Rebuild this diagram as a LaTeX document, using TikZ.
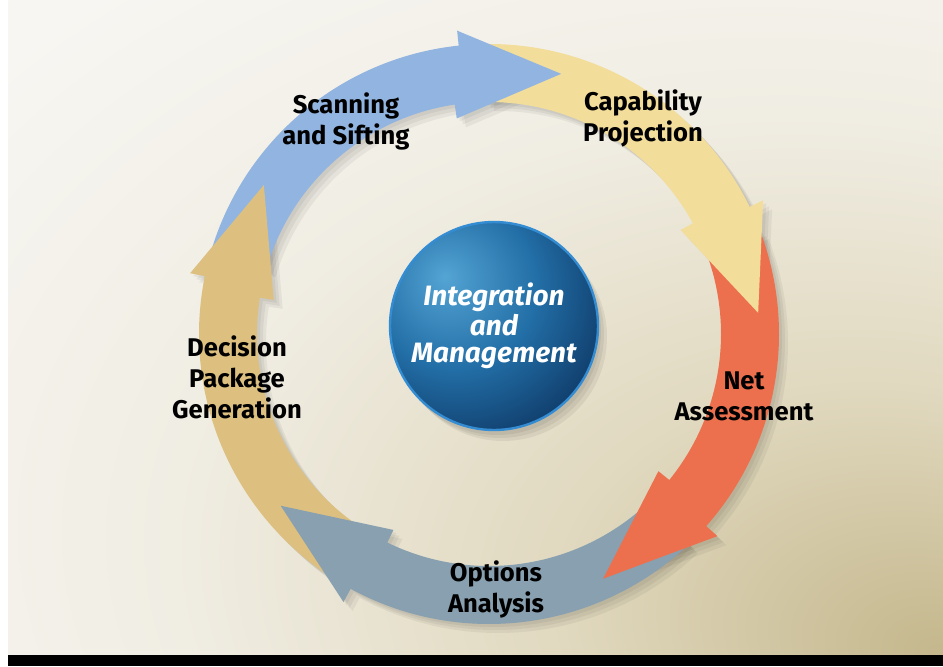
\documentclass[tikz,border=0pt]{standalone}
\usepackage{fontspec}
\setmainfont{Fira Sans}
\usetikzlibrary{positioning}

\definecolor{scanblue}{RGB}{146,180,224}
\definecolor{capyellow}{RGB}{243,221,155}
\definecolor{netred}{RGB}{236,112,78}
\definecolor{optgray}{RGB}{136,160,176}
\definecolor{dectan}{RGB}{221,192,128}
\definecolor{discLight}{RGB}{84,164,212}
\definecolor{discMid}{RGB}{34,110,166}
\definecolor{discDark}{RGB}{8,40,82}
\definecolor{discRim}{RGB}{52,140,210}
\definecolor{bgLight}{RGB}{251,251,250}
\definecolor{bgPale}{RGB}{247,246,242}
\definecolor{bgMid}{RGB}{240,237,227}
\definecolor{bgWarm}{RGB}{224,216,190}
\definecolor{bgDark}{RGB}{196,183,140}

\pgfdeclareradialshading{bgshade}{\pgfpoint{25bp}{-25bp}}{color(0bp)=(bgDark); color(16bp)=(bgWarm); color(33bp)=(bgMid); color(50bp)=(bgPale); color(72bp)=(bgLight); color(100bp)=(bgLight)}
\pgfdeclareradialshading{discshade}{\pgfpoint{-12bp}{12bp}}{color(0bp)=(discLight); color(20bp)=(discMid); color(44bp)=(discDark); color(100bp)=(discDark)}

% ring radii (in picture units)
\newcommand{\rIn}{232}
\newcommand{\rOut}{290}
\newcommand{\rBarbIn}{218}
\newcommand{\rBarbOut}{305}
\newcommand{\rTip}{270}

% #1 tail angle, #2 head base, #3 tip angle, #4 options
\newcommand{\ringshape}[4]{\fill[#4] (#1:\rOut) arc[start angle=#1, end angle=#2, radius=\rOut]
  -- (#2:\rBarbOut) -- (#3:\rTip) -- (#2+2.5:\rBarbIn) -- (#2+2.5:\rIn)
  arc[start angle=#2+2.5, end angle=#1, radius=\rIn] -- cycle;}
% #1 tail angle, #2 head base, #3 colour
\newcommand{\ringbody}[3]{\fill[#3] (#1:\rOut) arc[start angle=#1, end angle=#2-2, radius=\rOut]
  -- (#2-2:\rIn) arc[start angle=#2-2, end angle=#1, radius=\rIn] -- cycle;}
% #1 head base, #2 tip angle, #3 colour
\newcommand{\ringhead}[3]{\fill[#3] (#1:\rOut) -- (#1:\rBarbOut) -- (#2:\rTip)
  -- (#1+2.5:\rBarbIn) -- (#1+2.5:\rIn) -- cycle;}

\begin{document}
\begin{tikzpicture}[x=0.5pt, y=0.5pt]
\tikzset{phasetext/.style={font=\bfseries\fontsize{12.8}{15.5}\selectfont,
    text=black, align=center, inner sep=0pt},
  hub/.style={circle, minimum size=104pt, inner sep=0pt, shading=discshade,
    draw=discRim, line width=1.2pt, text=white, align=center,
    font=\bfseries\itshape\fontsize{14}{13.5}\selectfont}}

\useasboundingbox (0,0) rectangle (943,-666);
\shade[shading=bgshade] (8,0) rectangle (943,-655);
\fill[black] (8,-655) rectangle (943,-666);

\begin{scope}[shift={(489,-334)}]
  % soft shadows
  \foreach \tl/\bs/\tp in {163.5/96/74.5, 91/26/4.5, 21/-41.5/-65, -46.5/-118.5/-140.5, 236.5/168.5/146.5}{
    \foreach \d in {3,6,9}{
      \ringshape{\tl}{\bs}{\tp}{black, opacity=0.05, shift={(\d,-\d)}}
    }
  }
  % bodies first, heads on top
  \foreach \tl/\bs/\col in {163.5/96/scanblue, 91/26/capyellow, 21/-41.5/netred, -46.5/-118.5/optgray, 236.5/168.5/dectan}{
    \ringbody{\tl}{\bs}{\col}
  }
  \foreach \bs/\tp/\col in {96/74.5/scanblue, 26/4.5/capyellow, -41.5/-65/netred, -118.5/-140.5/optgray, 168.5/146.5/dectan}{
    \ringhead{\bs}{\tp}{\col}
  }
\end{scope}

\foreach \d in {3,6,9}
  \fill[black, opacity=0.06] (494+\d,-328-\d) circle[radius=104];
\node[hub] (core) at (494,-326) {Integration\\and\\Management};

\node[phasetext] (scan) at (346,-121) {Scanning\\and Sifting};
\node[phasetext] (capab) at (643,-118) {Capability\\Projection};
\node[phasetext] (netas) at (744,-396) {Net\\Assessment};
\node[phasetext] (optan) at (496,-589) {Options\\Analysis};
\node[phasetext] (decpk) at (237,-377) {Decision\\Package\\Generation};
\end{tikzpicture}
\end{document}
